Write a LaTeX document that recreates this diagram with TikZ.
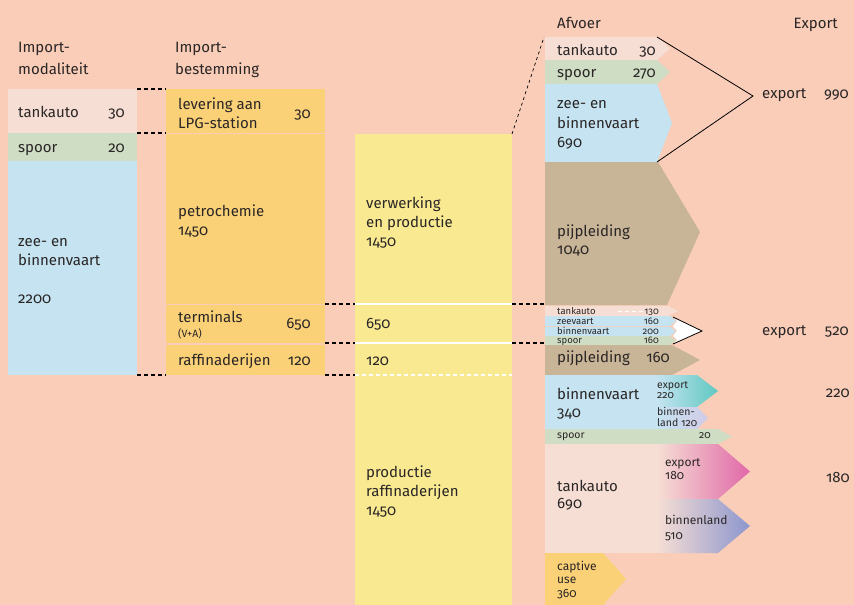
\documentclass[tikz,border=0pt]{standalone}
\usepackage{fontspec}
\setmainfont{Fira Sans}[Numbers=OldStyle]
\definecolor{bg}{HTML}{F9CDB8}
\definecolor{pale}{HTML}{F6DED4}
\definecolor{grn}{HTML}{CEDDC4}
\definecolor{blu}{HTML}{C5E3F1}
\definecolor{org}{HTML}{FBD177}
\definecolor{yel}{HTML}{F9EA92}
\definecolor{tan}{HTML}{C8B496}
\definecolor{teal}{HTML}{5EC8C0}
\definecolor{lav}{HTML}{D2CBE8}
\definecolor{pnk}{HTML}{E068A8}
\definecolor{vio}{HTML}{8C96CE}
\definecolor{ink}{HTML}{2A2626}
\tikzset{
  lbl/.style={anchor=base west, inner sep=0pt, text=ink, font=\fontsize{15}{18}\selectfont},
  rnum/.style={lbl, anchor=base east},
  mid/.style={font=\fontsize{12}{14}\selectfont},
  sml/.style={font=\fontsize{10.5}{12}\selectfont},
  tiny/.style={font=\fontsize{9.5}{10}\selectfont},
  dsh/.style={draw=black, line width=1.2pt, dash pattern=on 4pt off 3pt},
  wline/.style={draw=white, line width=1.6pt},
  brk/.style={draw=black, line width=0.8pt},
}
\newcommand\txtL[4]{\node[lbl,#4] (#1) at #2 {#3};}
\newcommand\txtR[4]{\node[rnum,#4] (#1) at #2 {#3};}
\begin{document}
\begin{tikzpicture}[x=1pt,y=-1pt]
\useasboundingbox (0,0) rectangle (854,605);
\fill[bg] (0,0) rectangle (854,605);
% column 1
\fill[pale] (8,89) rectangle (137,133);
\fill[grn] (8,133) rectangle (137,161);
\fill[blu] (8,161) rectangle (137,375);
% column 2
\fill[org] (166,89) rectangle (325,132.5);
\fill[org] (166,133.5) rectangle (325,304);
\fill[org] (166,305) rectangle (325,343);
\fill[org] (166,344.5) rectangle (325,375);
% column 3
\fill[yel] (355,134) rectangle (512,605);
\draw[wline] (355,304) -- (512,304);
\draw[wline] (355,343) -- (512,343);
\draw[draw=white, line width=1.2pt, dash pattern=on 4pt off 3pt] (355,375) -- (512,375);
% column 4
\fill[pale] (545,37) -- (657,37) -- (670,48.5) -- (657,60) -- (545,60) -- cycle;
\fill[grn] (545,60) -- (657,60) -- (670,72) -- (657,84) -- (545,84) -- cycle;
\fill[blu] (545,84) -- (657,84) -- (672,123) -- (657,162) -- (545,162) -- cycle;
\fill[tan] (545,162) -- (658,162) -- (700,232) -- (667,305) -- (545,305) -- cycle;
\fill[pale] (545,306) -- (668,306) -- (678,311) -- (668,316) -- (545,316) -- cycle;
\fill[blu] (545,316) -- (670,316) -- (676,321) -- (670,326) -- (545,326) -- cycle;
\fill[blu] (545,326.8) -- (670,326.8) -- (676,331.4) -- (670,336) -- (545,336) -- cycle;
\fill[grn] (545,336) -- (670,336) -- (676,340.5) -- (670,345) -- (545,345) -- cycle;
\draw[draw=white, line width=0.8pt, dash pattern=on 4pt off 3pt] (618,311) -- (644,311);
\fill[white] (673,317) -- (702,331) -- (673,344) -- (677,340) -- (673,336) -- (677,331) -- (673,326) -- (677,321) -- cycle;
\coordinate (wt1) at (673,317);
\coordinate (wt2) at (702,331);
\coordinate (wt3) at (673,344);
\draw[brk] (wt1) -- (wt2) -- (wt3);
\fill[tan] (545,345) -- (672,345) -- (700,360) -- (672,375) -- (545,375) -- cycle;
\fill[blu] (545,375) rectangle (658,429);
\shade[left color=blu, right color=teal] (657.5,375) -- (697,375) -- (718,391) -- (697,407) -- (657.5,407) -- cycle;
\shade[left color=blu, right color=lav] (657.5,407) -- (697,407) -- (708,418) -- (697,429) -- (657.5,429) -- cycle;
\fill[grn] (545,429) -- (718,429) -- (732,436.5) -- (718,444) -- (545,444) -- cycle;
\fill[pale] (545,444) rectangle (658,553);
\shade[left color=pale, right color=pnk] (657.5,444) -- (718,444) -- (750,471.5) -- (718,499) -- (657.5,499) -- cycle;
\shade[left color=pale, right color=vio] (657.5,499) -- (718,499) -- (750,526) -- (718,553) -- (657.5,553) -- cycle;
\fill[org] (545,553) -- (603,553) -- (626,579) -- (603,605) -- (545,605) -- cycle;
% dashed connectors
\coordinate (a1) at (137,89);  \coordinate (a2) at (166,89);
\coordinate (b1) at (137,133); \coordinate (b2) at (166,133);
\coordinate (c1) at (137,375); \coordinate (c2) at (166,375);
\coordinate (d1) at (325,304); \coordinate (d2) at (355,304);
\coordinate (e1) at (325,343); \coordinate (e2) at (355,343);
\coordinate (f1) at (325,375); \coordinate (f2) at (355,375);
\coordinate (g1) at (512,304); \coordinate (g2) at (545,304);
\coordinate (h1) at (512,343); \coordinate (h2) at (545,343);
\coordinate (k1) at (512,134); \coordinate (k2) at (544,37);
\draw[dsh] (a1) -- (a2);
\draw[dsh] (b1) -- (b2);
\draw[dsh] (c1) -- (c2);
\draw[dsh] (d1) -- (d2);
\draw[dsh] (e1) -- (e2);
\draw[dsh] (f1) -- (f2);
\draw[dsh] (g1) -- (g2);
\draw[dsh] (h1) -- (h2);
\draw[draw=black, line width=0.7pt, dash pattern=on 3pt off 3pt] (k1) -- (k2);
% export bracket
\coordinate (x1) at (657,37); \coordinate (x2) at (753,96); \coordinate (x3) at (657,162);
\draw[brk] (x1) -- (x2) -- (x3);
% headers
\txtL{h1a}{(18,52)}{Import-}{}
\txtL{h1b}{(18,74)}{modaliteit}{}
\txtL{h2a}{(175,52)}{Import-}{}
\txtL{h2b}{(175,74)}{bestemming}{}
\txtL{h4}{(557,28)}{Afvoer}{}
\txtR{h5}{(838,28)}{Export}{}
% column 1 text
\txtL{t1}{(18,117)}{tankauto}{}
\txtR{t1n}{(125,117)}{30}{}
\txtL{t2}{(18,152)}{spoor}{}
\txtR{t2n}{(125,152)}{20}{}
\txtL{t3a}{(18,246)}{zee- en}{}
\txtL{t3b}{(18,265)}{binnenvaart}{}
\txtL{t3n}{(18,303)}{2200}{}
% column 2 text
\txtL{u1a}{(178,109)}{levering aan}{}
\txtL{u1b}{(178,128)}{LPG-station}{}
\txtR{u1n}{(311,118)}{30}{}
\txtL{u2a}{(178,216)}{petrochemie}{}
\txtL{u2n}{(178,235)}{1450}{}
\txtL{u3a}{(178,322)}{terminals}{}
\txtL{u3b}{(178,337)}{(V+A)}{sml}
\txtR{u3n}{(311,328)}{650}{}
\txtL{u4a}{(178,365)}{raffinaderijen}{}
\txtR{u4n}{(311,365)}{120}{}
% column 3 text
\txtL{v1a}{(366,208)}{verwerking}{}
\txtL{v1b}{(366,227)}{en productie}{}
\txtL{v1n}{(366,246)}{1450}{}
\txtL{v2n}{(366,328)}{650}{}
\txtL{v3n}{(366,365)}{120}{}
\txtL{v4a}{(366,477)}{productie}{}
\txtL{v4b}{(366,496)}{raffinaderijen}{}
\txtL{v4n}{(366,515)}{1450}{}
% column 4 text
\txtL{w1}{(557,55)}{tankauto}{}
\txtR{w1n}{(656,55)}{30}{}
\txtL{w2}{(557,77)}{spoor}{}
\txtR{w2n}{(656,77)}{270}{}
\txtL{w3a}{(557,108)}{zee- en}{}
\txtL{w3b}{(557,128)}{binnenvaart}{}
\txtL{w3n}{(557,147)}{690}{}
\txtL{ex1}{(762,98)}{export}{}
\txtR{ex1n}{(849,98)}{990}{}
\txtL{w4}{(557,236)}{pijpleiding}{}
\txtL{w4n}{(557,254)}{1040}{}
\txtL{s1}{(557,314)}{tankauto}{tiny}
\txtR{s1n}{(659,314)}{130}{tiny}
\txtL{s2}{(557,324)}{zeevaart}{tiny}
\txtR{s2n}{(659,324)}{160}{tiny}
\txtL{s3}{(557,334)}{binnenvaart}{tiny}
\txtR{s3n}{(659,334)}{200}{tiny}
\txtL{s4}{(557,343)}{spoor}{tiny}
\txtR{s4n}{(659,343)}{160}{tiny}
\txtL{ex2}{(762,335)}{export}{}
\txtR{ex2n}{(849,335)}{520}{}
\txtL{w5}{(557,362)}{pijpleiding}{}
\txtR{w5n}{(670,362)}{160}{}
\txtL{w6a}{(557,399)}{binnenvaart}{}
\txtL{w6n}{(557,417)}{340}{}
\txtL{w6b}{(657,388)}{export}{sml}
\txtL{w6c}{(657,398.5)}{220}{sml}
\txtL{w6d}{(657,415)}{binnen-}{sml}
\txtL{w6e}{(657,426)}{land 120}{sml}
\txtL{w7}{(557,438)}{spoor}{sml}
\txtR{w7n}{(711,438)}{20}{sml}
\txtR{ex3n}{(850,397)}{220}{}
\txtL{w8a}{(557,491)}{tankauto}{}
\txtL{w8n}{(557,508)}{690}{}
\txtL{w8b}{(665,466)}{export}{mid}
\txtL{w8c}{(665,479)}{180}{mid}
\txtL{w8d}{(665,524)}{binnenland}{mid}
\txtL{w8e}{(665,539)}{510}{mid}
\txtR{ex4n}{(850,482)}{180}{}
\txtL{w9a}{(557,570)}{captive}{mid}
\txtL{w9b}{(557,583)}{use}{mid}
\txtL{w9n}{(557,597)}{360}{mid}
\end{tikzpicture}
\end{document}
